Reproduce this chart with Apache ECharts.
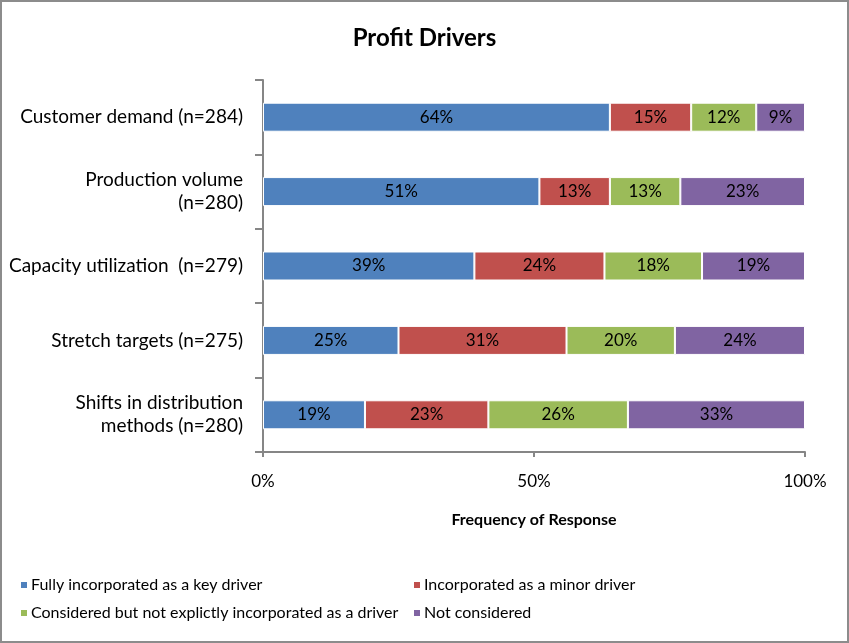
<!DOCTYPE html>
<html>
<head>
<meta charset="utf-8">
<script src="https://cdn.jsdelivr.net/npm/echarts@6/dist/echarts.min.js"></script>
<style>
  html, body { margin: 0; padding: 0; background: #fff; }
  #main { width: 845px; height: 639px; border: 2px solid #8c8c8c; }
</style>
</head>
<body>
<div id="main"></div>
<script>
// categories, top to bottom
var categories = [
  "Customer demand (n=284)",
  "Production volume\n(n=280)",
  "Capacity utilization  (n=279)",
  "Stretch targets (n=275)",
  "Shifts in distribution\nmethods (n=280)"
];
var seriesNames = [
  "Fully incorporated as a key driver",
  "Incorporated as a minor driver",
  "Considered but not explictly incorporated as a driver",
  "Not considered"
];
// percentages as shown in the labels
var keyDriver = [64, 51, 39, 25, 19];
var minorDriver = [15, 13, 24, 31, 23];
var consideredOnly = [12, 13, 18, 20, 26];
var notConsidered = [9, 23, 19, 24, 33];
var xTicks = [0, 50, 100];

var colors = ["#4f81bd", "#c0504d", "#9bbb59", "#8064a2"];
var font = "Lato, 'Open Sans', sans-serif";

var allData = [keyDriver, minorDriver, consideredOnly, notConsidered];
// 100% stacked: normalise each row to its own total
var rowSum = categories.map(function (c, i) {
  return allData.reduce(function (s, arr) { return s + arr[i]; }, 0);
});

var series = allData.map(function (arr, k) {
  return {
    name: seriesNames[k],
    type: "bar",
    stack: "total",
    barWidth: "39%",
    itemStyle: { color: colors[k], borderColor: "#fff", borderWidth: 1 },
    label: {
      show: true,
      position: "inside",
      color: "#000",
      fontFamily: font,
      fontSize: 17,
      formatter: function (p) { return arr[p.dataIndex] + "%"; }
    },
    data: arr.map(function (v, i) { return v / rowSum[i] * 100; })
  };
});

var legendBase = {
  orient: "vertical",
  top: 570,
  itemWidth: 8,
  itemHeight: 8,
  itemGap: 12,
  icon: "rect",
  textStyle: { fontFamily: font, fontSize: 16, color: "#000", padding: [0, 0, 0, -2] }
};

var chart = echarts.init(document.getElementById("main"));
chart.setOption({
  animation: false,
  title: {
    text: "Profit Drivers",
    left: "center",
    top: 19,
    textStyle: { fontFamily: font, fontSize: 24, fontWeight: "bold", color: "#000" }
  },
  grid: { left: 261, right: 42, top: 78, bottom: 189 },
  xAxis: {
    type: "value",
    min: 0,
    max: 100,
    interval: 50,
    name: "Frequency of Response",
    nameLocation: "middle",
    nameGap: 60,
    nameTextStyle: { fontFamily: font, fontSize: 16, fontWeight: "bold", color: "#000" },
    axisLine: { show: true, lineStyle: { color: "#868686", width: 2 } },
    axisTick: { show: true, length: 5, lineStyle: { color: "#868686", width: 2 } },
    splitLine: { show: false },
    axisLabel: {
      fontFamily: font, fontSize: 17, color: "#000", margin: 21,
      formatter: function (v) { return xTicks.indexOf(v) >= 0 ? v + "%" : ""; }
    }
  },
  yAxis: {
    type: "category",
    inverse: true,
    data: categories,
    axisLine: { show: true, lineStyle: { color: "#868686", width: 2 } },
    axisTick: { show: true, length: 8, lineStyle: { color: "#868686", width: 2 } },
    axisLabel: {
      fontFamily: font, fontSize: 19, color: "#000", margin: 20, align: "right", lineHeight: 23
    }
  },
  legend: [
    Object.assign({ data: [seriesNames[0], seriesNames[2]], left: 12 }, legendBase),
    Object.assign({ data: [seriesNames[1], seriesNames[3]], left: 405 }, legendBase)
  ],
  series: series
});
</script>
</body>
</html>
